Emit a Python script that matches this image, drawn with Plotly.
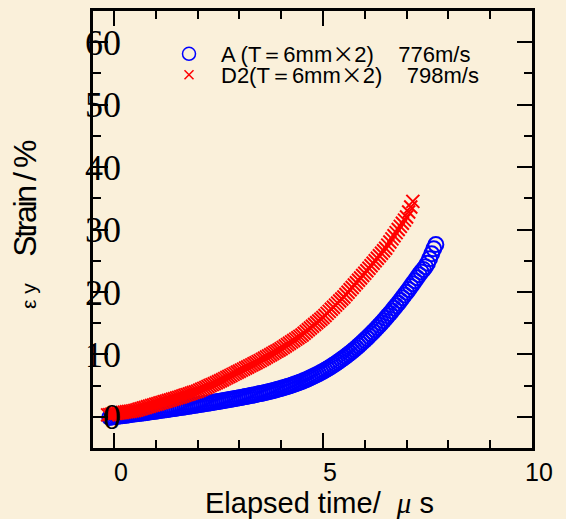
import plotly.graph_objects as go

# ---------------- data ----------------
time_A = [-0.10, -0.05, 0.00, 0.05, 0.10, 0.15, 0.20, 0.25, 0.30, 0.35, 0.40, 0.45, 0.50, 0.55, 0.60, 0.65, 0.70, 0.75, 0.80, 0.85,
          0.90, 0.95, 1.00, 1.05, 1.10, 1.15, 1.20, 1.25, 1.30, 1.35, 1.40, 1.45, 1.50, 1.55, 1.60, 1.65, 1.70, 1.75, 1.80, 1.85,
          1.90, 1.95, 2.00, 2.05, 2.10, 2.15, 2.20, 2.25, 2.30, 2.35, 2.40, 2.45, 2.50, 2.55, 2.60, 2.65, 2.70, 2.75, 2.80, 2.85,
          2.90, 2.95, 3.00, 3.05, 3.10, 3.15, 3.20, 3.25, 3.30, 3.35, 3.40, 3.45, 3.50, 3.55, 3.60, 3.65, 3.70, 3.75, 3.80, 3.85,
          3.90, 3.95, 4.00, 4.05, 4.10, 4.15, 4.20, 4.25, 4.30, 4.35, 4.40, 4.45, 4.50, 4.55, 4.60, 4.65, 4.70, 4.75, 4.80, 4.85,
          4.90, 4.95, 5.00, 5.05, 5.10, 5.15, 5.20, 5.25, 5.30, 5.35, 5.40, 5.45, 5.50, 5.55, 5.60, 5.65, 5.70, 5.75, 5.80, 5.85,
          5.90, 5.95, 6.00, 6.05, 6.10, 6.15, 6.20, 6.25, 6.30, 6.35, 6.40, 6.45, 6.50, 6.55, 6.60, 6.65, 6.70, 6.75, 6.80, 6.85,
          6.90, 6.95, 7.00, 7.05, 7.10, 7.15, 7.20, 7.25, 7.30, 7.35, 7.40, 7.45, 7.50, 7.55, 7.60, 7.65, 7.70]
strain_A = [-0.10, -0.05, 0.00, 0.05, 0.10, 0.14, 0.18, 0.22, 0.26, 0.30, 0.35, 0.39, 0.43, 0.48, 0.52, 0.57, 0.61, 0.66, 0.70, 0.75,
            0.80, 0.84, 0.89, 0.94, 0.99, 1.03, 1.08, 1.13, 1.18, 1.23, 1.28, 1.33, 1.38, 1.43, 1.48, 1.53, 1.58, 1.63, 1.69, 1.74,
            1.79, 1.84, 1.90, 1.95, 2.00, 2.06, 2.11, 2.17, 2.22, 2.28, 2.33, 2.39, 2.45, 2.50, 2.56, 2.62, 2.68, 2.74, 2.80, 2.86,
            2.92, 2.98, 3.04, 3.10, 3.17, 3.23, 3.30, 3.36, 3.43, 3.50, 3.57, 3.64, 3.71, 3.78, 3.86, 3.94, 4.02, 4.10, 4.18, 4.27,
            4.36, 4.45, 4.54, 4.64, 4.74, 4.84, 4.95, 5.06, 5.17, 5.29, 5.41, 5.54, 5.67, 5.81, 5.95, 6.10, 6.25, 6.41, 6.57, 6.74,
            6.91, 7.09, 7.27, 7.46, 7.66, 7.86, 8.07, 8.28, 8.50, 8.73, 8.96, 9.20, 9.45, 9.70, 9.96, 10.23, 10.50, 10.78, 11.07, 11.36,
            11.66, 11.97, 12.28, 12.60, 12.93, 13.26, 13.60, 13.95, 14.30, 14.66, 15.03, 15.40, 15.78, 16.17, 16.56, 16.96, 17.37, 17.78, 18.20, 18.63,
            19.06, 19.50, 19.95, 20.40, 20.86, 21.33, 21.80, 22.28, 22.77, 23.20, 23.60, 24.05, 24.60, 25.30, 26.10, 26.90, 27.60]

time_D2 = [-0.15, -0.10, -0.05, 0.00, 0.05, 0.10, 0.15, 0.20, 0.25, 0.30, 0.35, 0.40, 0.45, 0.50, 0.55, 0.60, 0.65, 0.70, 0.75, 0.80,
           0.85, 0.90, 0.95, 1.00, 1.05, 1.10, 1.15, 1.20, 1.25, 1.30, 1.35, 1.40, 1.45, 1.50, 1.55, 1.60, 1.65, 1.70, 1.75, 1.80,
           1.85, 1.90, 1.95, 2.00, 2.05, 2.10, 2.15, 2.20, 2.25, 2.30, 2.35, 2.40, 2.45, 2.50, 2.55, 2.60, 2.65, 2.70, 2.75, 2.80,
           2.85, 2.90, 2.95, 3.00, 3.05, 3.10, 3.15, 3.20, 3.25, 3.30, 3.35, 3.40, 3.45, 3.50, 3.55, 3.60, 3.65, 3.70, 3.75, 3.80,
           3.85, 3.90, 3.95, 4.00, 4.05, 4.10, 4.15, 4.20, 4.25, 4.30, 4.35, 4.40, 4.45, 4.50, 4.55, 4.60, 4.65, 4.70, 4.75, 4.80,
           4.85, 4.90, 4.95, 5.00, 5.05, 5.10, 5.15, 5.20, 5.25, 5.30, 5.35, 5.40, 5.45, 5.50, 5.55, 5.60, 5.65, 5.70, 5.75, 5.80,
           5.85, 5.90, 5.95, 6.00, 6.05, 6.10, 6.15, 6.20, 6.25, 6.30, 6.35, 6.40, 6.45, 6.50, 6.55, 6.60, 6.65, 6.70, 6.75, 6.80,
           6.85, 6.90, 6.95, 7.00, 7.05, 7.10, 7.15]
strain_D2 = [0.30, 0.35, 0.42, 0.50, 0.55, 0.60, 0.65, 0.70, 0.75, 0.80, 0.85, 0.90, 0.95, 1.00, 1.10, 1.20, 1.30, 1.40, 1.50, 1.60,
             1.70, 1.80, 1.90, 2.00, 2.10, 2.20, 2.30, 2.40, 2.50, 2.60, 2.70, 2.80, 2.90, 3.00, 3.11, 3.22, 3.33, 3.44, 3.55, 3.66,
             3.77, 3.88, 3.99, 4.10, 4.25, 4.40, 4.55, 4.70, 4.85, 5.00, 5.15, 5.30, 5.45, 5.60, 5.77, 5.94, 6.11, 6.28, 6.45, 6.62,
             6.79, 6.96, 7.13, 7.30, 7.47, 7.64, 7.81, 7.98, 8.15, 8.32, 8.49, 8.66, 8.83, 9.00, 9.19, 9.38, 9.57, 9.76, 9.95, 10.14,
             10.33, 10.52, 10.71, 10.90, 11.12, 11.34, 11.56, 11.78, 12.00, 12.22, 12.44, 12.66, 12.88, 13.10, 13.38, 13.66, 13.94, 14.22, 14.50, 14.78,
             15.06, 15.34, 15.62, 15.90, 16.23, 16.56, 16.89, 17.22, 17.55, 17.88, 18.21, 18.54, 18.87, 19.20, 19.58, 19.96, 20.34, 20.72, 21.10, 21.48,
             21.86, 22.24, 22.62, 23.00, 23.40, 23.80, 24.20, 24.60, 25.00, 25.40, 25.80, 26.20, 26.60, 27.00, 27.50, 28.00, 28.50, 29.00, 29.50, 30.00,
             30.50, 31.00, 31.50, 32.00, 32.80, 33.60, 34.50]

TIMES = "<span style='font-family:Noto Sans CJK JP'>×</span>"
name_A = "A (T＝6mm" + TIMES + "2)\u00a0\u00a0\u00a0\u00a0776m/s"
name_D2 = "D2(T＝6mm" + TIMES + "2)\u00a0\u00a0\u00a0\u00a0798m/s"

x_ticks = [0, 5, 10]
y_ticks = [0, 10, 20, 30, 40, 50, 60]

BG = "#FAF0DA"
BLUE = "#0000FF"
RED = "#FF0000"

fig = go.Figure()
fig.add_trace(go.Scatter(
    x=time_A, y=strain_A, mode="markers", name=name_A, showlegend=False,
    marker=dict(symbol="circle-open", size=15, color=BLUE, line=dict(color=BLUE, width=2)),
))
fig.add_trace(go.Scatter(
    x=time_D2, y=strain_D2, mode="markers", name=name_D2, showlegend=False,
    marker=dict(symbol="x-thin-open", size=13, color=RED, line=dict(color=RED, width=2)),
))
# legend entries (same series, smaller legend symbols), one legend box per row
fig.add_trace(go.Scatter(
    x=[None], y=[None], mode="markers", name=name_A, legend="legend",
    marker=dict(symbol="circle-open", size=13, color=BLUE, line=dict(color=BLUE, width=1.5)),
))
fig.add_trace(go.Scatter(
    x=[None], y=[None], mode="markers", name=name_D2, legend="legend2",
    marker=dict(symbol="x-thin-open", size=9, color=RED, line=dict(color=RED, width=1.5)),
))

common_leg = dict(xanchor="left", yanchor="top", bgcolor="rgba(0,0,0,0)", borderwidth=0,
                  font=dict(family="Liberation Sans, Arial", size=22, color="black"),
                  itemsizing="trace", itemwidth=54)

fig.update_layout(
    width=566, height=519,
    margin=dict(l=93, r=34, t=11, b=71),
    paper_bgcolor=BG, plot_bgcolor=BG,
    showlegend=True,
    legend=dict(x=(157 - 93) / 439, y=(448 - 33) / 437, **common_leg),
    legend2=dict(x=(157 - 93) / 439, y=(448 - 54) / 437, **common_leg),
    font=dict(family="Liberation Sans, Arial", color="black"),
)

fig.update_xaxes(
    range=[-0.5, 10], tickmode="array", tickvals=x_ticks, ticktext=[str(v) for v in x_ticks],
    showgrid=False, zeroline=False,
    showline=True, linecolor="black", linewidth=2.5, mirror="allticks",
    ticks="inside", ticklen=15, tickwidth=2, tickcolor="black",
    minor=dict(dtick=1, tick0=0, ticks="inside", ticklen=8, tickwidth=2, tickcolor="black", showgrid=False),
    tickfont=dict(family="Liberation Sans, Arial", size=25, color="black"),
    ticklabelshift=7,
    automargin=False,
)
fig.update_yaxes(
    range=[-5, 65], tickmode="array", tickvals=y_ticks, ticktext=[str(v) for v in y_ticks],
    showgrid=False, zeroline=False,
    showline=True, linecolor="black", linewidth=2.5, mirror="allticks",
    ticks="inside", ticklen=15, tickwidth=2, tickcolor="black",
    minor=dict(dtick=5, tick0=0, ticks="inside", ticklen=8, tickwidth=2, tickcolor="black", showgrid=False),
    tickfont=dict(family="Liberation Serif, Times New Roman", size=36, color="black"),
    ticklabelstandoff=-38,
    automargin=False,
)

fig.add_annotation(
    text="Elapsed time/\u00a0\u00a0"
         "<span style='font-family:Liberation Serif'><i>\u03bc</i></span>\u00a0s",
    xref="paper", yref="paper",
    x=(319 - 93) / 439, y=-(503 - 448) / 437, xanchor="center", yanchor="middle",
    showarrow=False, font=dict(family="Liberation Sans, Arial", size=29, color="black"),
)
fig.add_annotation(
    text="<span style='font-size:21px'>\u03b5 y</span>\u00a0\u00a0\u00a0"
         "<span style='letter-spacing:-2.4px'>Strain / %</span>",
    xref="paper", yref="paper",
    x=-(93 - 25) / 439, y=(448 - 225) / 437, xanchor="center", yanchor="middle", textangle=-90,
    showarrow=False, font=dict(family="Liberation Sans, Arial", size=32, color="black"),
)

fig.write_html("out.html")
